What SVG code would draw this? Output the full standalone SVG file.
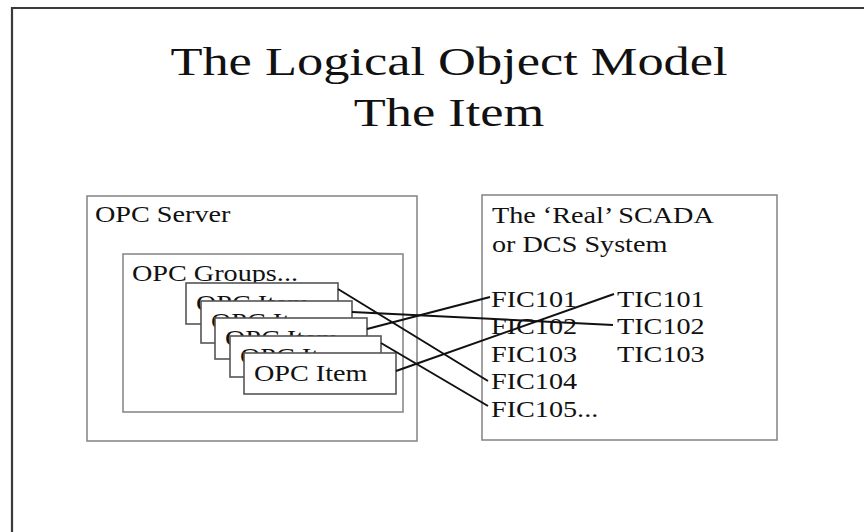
<svg xmlns="http://www.w3.org/2000/svg" width="864" height="532" viewBox="0 0 864 532">
<style>
  text { font-family: "Liberation Serif", "Times New Roman", serif; fill: #111; }
  .title { font-size: 40px; text-anchor: middle; }
  .body { font-size: 23.5px; }
  .frame { fill: none; stroke: #3a3a3a; stroke-width: 2.2; }
  .box { fill: #fff; stroke: #8a8a8a; stroke-width: 1.6; }
  .item { fill: #fff; stroke: #555; stroke-width: 1.6; }
  .conn { stroke: #111; stroke-width: 2; fill: none; }
</style>
<defs>
  <clipPath id="c1"><path clip-rule="evenodd" d="M186 283 H338 V324 H186 Z M201 301 H352 V343 H201 Z"/></clipPath>
  <clipPath id="c2"><path clip-rule="evenodd" d="M201 301 H352 V343 H201 Z M215 318 H367 V359 H215 Z"/></clipPath>
  <clipPath id="c3"><path clip-rule="evenodd" d="M215 318 H367 V359 H215 Z M230 336 H381 V377 H230 Z"/></clipPath>
  <clipPath id="c4"><path clip-rule="evenodd" d="M230 336 H381 V377 H230 Z M244 353 H396 V394 H244 Z"/></clipPath>
</defs>
<rect width="864" height="532" fill="#fff"/>
<path class="frame" d="M12 532 V8 H864"/>
<g id="title">
  <text class="title" transform="translate(449,75) scale(1.31,1)">The Logical Object Model</text>
  <text class="title" transform="translate(449,126) scale(1.31,1)">The Item</text>
</g>
<g id="opc-server">
  <rect class="box" x="87" y="196" width="330" height="245"/>
  <text class="body" transform="translate(95,222) scale(1.2,1)">OPC Server</text>
</g>
<g id="opc-groups">
  <rect class="box" x="123" y="254" width="280" height="158"/>
  <text class="body" transform="translate(132,281) scale(1.2,1)">OPC Groups...</text>
</g>
<g id="item1">
  <rect class="item" x="186" y="283" width="152" height="41"/>
  <g clip-path="url(#c1)"><text class="body" transform="translate(196,311) scale(1.2,1)">OPC Item</text></g>
</g>
<g id="item2">
  <rect class="item" x="201" y="301" width="151" height="42"/>
  <g clip-path="url(#c2)"><text class="body" transform="translate(211,329) scale(1.2,1)">OPC Item</text></g>
</g>
<g id="item3">
  <rect class="item" x="215" y="318" width="152" height="41"/>
  <g clip-path="url(#c3)"><text class="body" transform="translate(225,346) scale(1.2,1)">OPC Item</text></g>
</g>
<g id="item4">
  <rect class="item" x="230" y="336" width="151" height="41"/>
  <g clip-path="url(#c4)"><text class="body" transform="translate(240,364) scale(1.2,1)">OPC Item</text></g>
</g>
<g id="item5">
  <rect class="item" x="244" y="353" width="152" height="41"/>
  <text class="body" transform="translate(254,381) scale(1.2,1)">OPC Item</text>
</g>
<g id="scada">
  <rect class="box" x="482" y="195" width="295" height="245"/>
  <text class="body" transform="translate(492,223) scale(1.2,1)">The ‘Real’ SCADA</text>
  <text class="body" transform="translate(492,252) scale(1.2,1)">or DCS System</text>
  <text class="body" transform="translate(491,307) scale(1.2,1)">FIC101</text>
  <text class="body" transform="translate(491,334) scale(1.2,1)">FIC102</text>
  <text class="body" transform="translate(491,362) scale(1.2,1)">FIC103</text>
  <text class="body" transform="translate(491,389) scale(1.2,1)">FIC104</text>
  <text class="body" transform="translate(491,417) scale(1.2,1)">FIC105...</text>
  <text class="body" transform="translate(617,307) scale(1.2,1)">TIC101</text>
  <text class="body" transform="translate(617,334) scale(1.2,1)">TIC102</text>
  <text class="body" transform="translate(617,362) scale(1.2,1)">TIC103</text>
</g>
<g id="connectors">
  <line class="conn" x1="338" y1="289" x2="488" y2="381"/>
  <line class="conn" x1="352" y1="312" x2="613" y2="325"/>
  <line class="conn" x1="367" y1="329" x2="490" y2="297"/>
  <line class="conn" x1="381" y1="343" x2="488" y2="406"/>
  <line class="conn" x1="396" y1="371" x2="614" y2="294"/>
</g>
</svg>
